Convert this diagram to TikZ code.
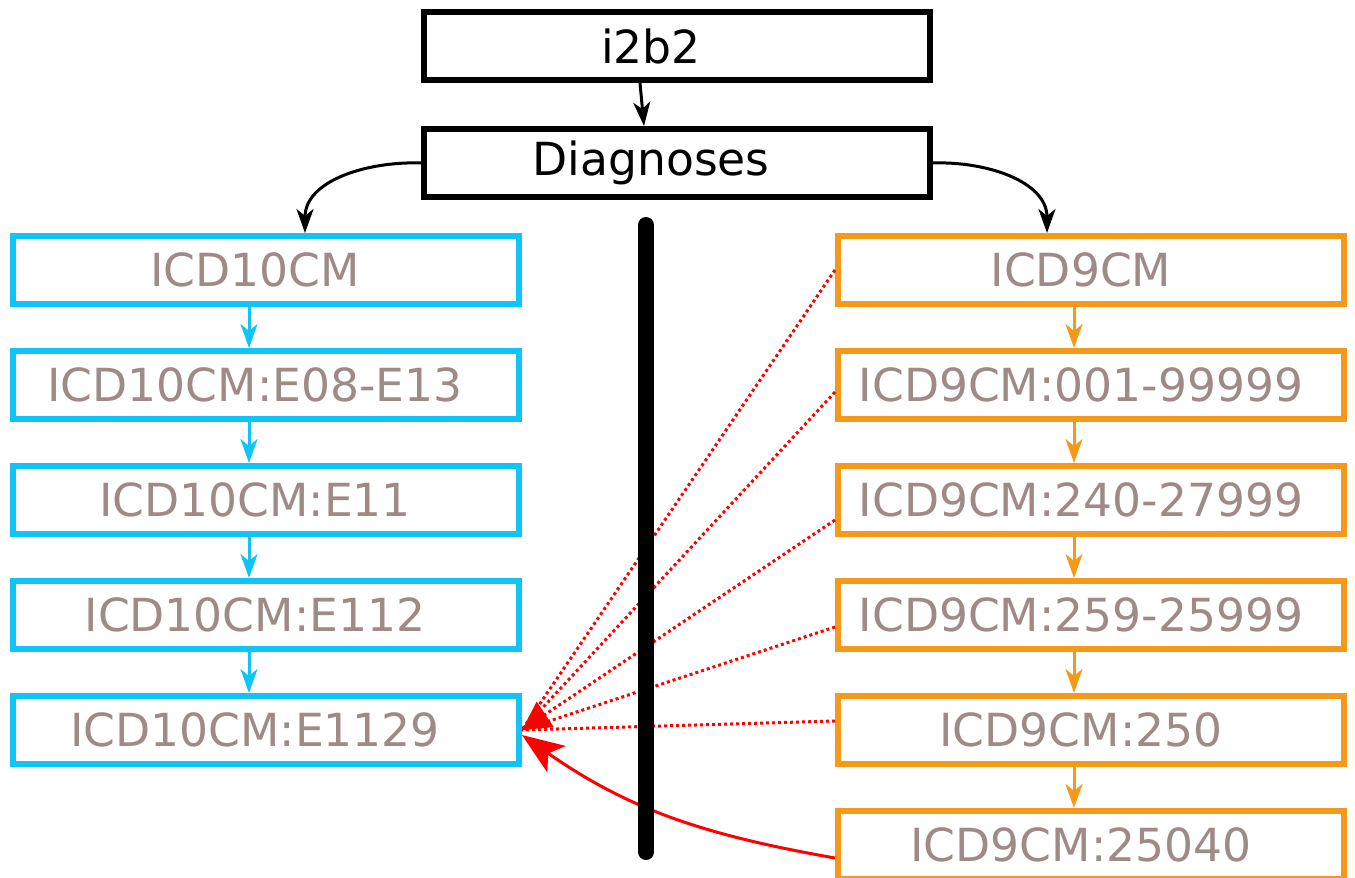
\documentclass[tikz,border=0pt]{standalone}
\usepackage{fontspec}
\setmainfont{DejaVu Sans}
\usepackage{tikz}
\usetikzlibrary{arrows.meta,positioning}

\definecolor{tenblue}{RGB}{16,196,245}
\definecolor{nineorange}{RGB}{245,153,26}
\definecolor{codegrey}{RGB}{158,138,135}

\tikzset{
  box/.style={draw, line width=3pt, minimum width=253pt, minimum height=34pt,
    font=\fontsize{22.8}{27}\selectfont},
  headbox/.style={box, execute at end node={\hspace*{26pt}}},
  tenbox/.style={box, draw=tenblue, text=codegrey, execute at end node={\hspace*{11pt}}},
  ninebox/.style={box, draw=nineorange, text=codegrey, execute at end node={\hspace*{10pt}}},
  link/.style={line width=1.5pt, -{Stealth[length=12pt,width=8.5pt,inset=3.5pt]}},
  maps/.style={red, line width=1.5pt, dash pattern=on 1.5pt off 1.5pt},
}

\begin{document}
\begin{tikzpicture}
			[x=0.5pt,y=-0.5pt,node distance=57.5pt,on grid]
			\useasboundingbox (0,0) rectangle (1355,878);
			\node[headbox] (i2b2) at (677,46) {i2b2};
			\node[headbox] (diag) [below=58.5pt of i2b2] {Diagnoses};
			% ICD10 side
			\node[tenbox] (icdten) at (266,270) {ICD10CM};
			\node[tenbox] (tenA) [below=of icdten] {ICD10CM:E08-E13};
			\node[tenbox] (tenB) [below=of tenA] {ICD10CM:E11};
			\node[tenbox] (tenC) [below=of tenB] {ICD10CM:E112};
			\node[tenbox] (tenD) [below=of tenC] {ICD10CM:E1129};
			% ICD9 side
			\node[ninebox] (icdnine) at (1091,270) {ICD9CM};
			\node[ninebox] (nineA) [below=of icdnine] {ICD9CM:001-99999};
			\node[ninebox] (nineB) [below=of nineA] {ICD9CM:240-27999};
			\node[ninebox] (nineC) [below=of nineB] {ICD9CM:259-25999};
			\node[ninebox] (nineD) [below=of nineC] {ICD9CM:250};
			\node[ninebox] (nineE) [below=of nineD] {ICD9CM:25040};
			
			\draw[link] ([xshift=-18.5pt]i2b2.south) -- ([xshift=-16.5pt]diag.north);
			\draw[link] (diag.west) to[out=178,in=90] ([xshift=19.5pt]icdten.north);
			\draw[link] (diag.east) to[out=2,in=90] ([xshift=-22pt]icdnine.north);
			\foreach \a/\b in {icdten/tenA,tenA/tenB,tenB/tenC,tenC/tenD}
				\draw[link,tenblue] ([xshift=-8.5pt]\a.south) -- ([xshift=-8.5pt]\b.north);
			\foreach \a/\b in {icdnine/nineA,nineA/nineB,nineB/nineC,nineC/nineD,nineD/nineE}
				\draw[link,nineorange] ([xshift=-8.5pt]\a.south) -- ([xshift=-8.5pt]\b.north);
			
			% mappings
			\draw[maps] (icdnine.west) -- (tenD.east);
			\draw[maps] ([yshift=-3.5pt]nineA.west) -- (tenD.east);
			\draw[maps,-{Triangle[length=14pt,width=15pt]}] ([yshift=-10pt]nineB.west) -- (tenD.east);
			\draw[maps] ([yshift=-6pt]nineC.west) -- (tenD.east);
			\draw[maps] ([yshift=4.5pt]nineD.west) -- (tenD.east);
			\draw[red,line width=1.5pt,-{Stealth[length=21pt,width=16pt,inset=5pt]}]
				([yshift=-6.5pt]nineE.west) to[out=170,in=-35] ([yshift=-2.5pt]tenD.east);
			
			\draw[line width=8pt,line cap=round] (646,225) -- (646,852);
		\end{tikzpicture}
\end{document}
